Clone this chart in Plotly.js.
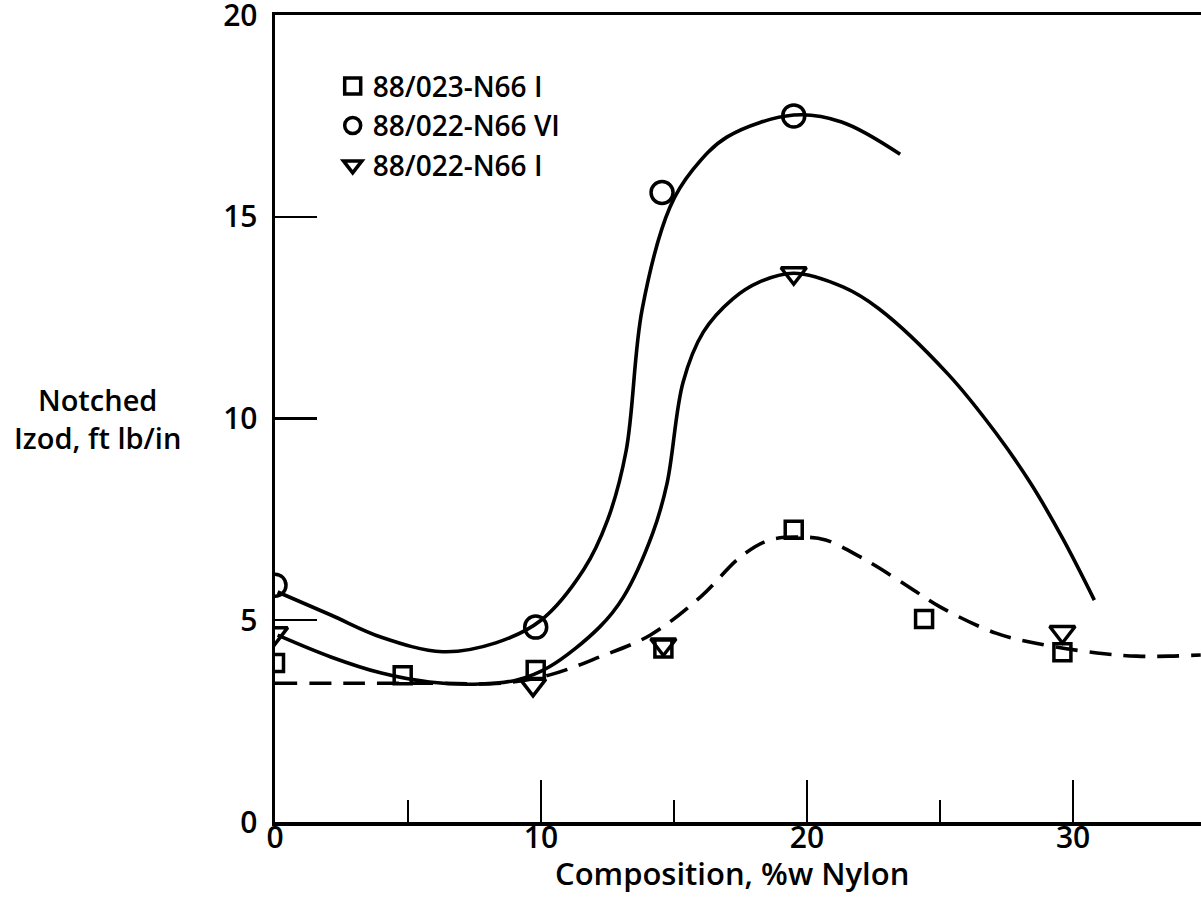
<!DOCTYPE html>
<html>
<head>
<meta charset="utf-8">
<script src="https://cdn.plot.ly/plotly-3.0.1.min.js"></script>
<style>
  html, body { margin: 0; padding: 0; background: #fff; }
  #chart { width: 1201px; height: 906px; }
</style>
</head>
<body>
<div id="chart"></div>
<script>
// Measured points, notched Izod (ft lb/in) against nylon content (%w)
const sqX = [0, 4.8, 9.8, 14.6, 19.5, 24.4, 29.6];
const sqY = [3.94, 3.64, 3.77, 4.3, 7.24, 5.03, 4.21];
const ciX = [0, 9.8, 14.55, 19.5];
const ciY = [5.87, 4.83, 15.6, 17.5];
const trX = [0, 9.7, 14.6, 19.5, 29.6];
const trY = [4.68, 3.4, 4.4, 13.6, 4.71];

// Hand-drawn trend curves through each data set
const fitCiX = [0.1, 2.1, 4.0, 6.3, 8.3, 10.0, 11.6, 12.5, 13.2, 13.8, 14.85, 15.7, 17.0, 19.5, 21.3, 23.5];
const fitCiY = [5.7, 5.13, 4.58, 4.22, 4.44, 5.0, 6.25, 7.48, 9.2, 12.7, 15.24, 16.16, 16.98, 17.52, 17.35, 16.55];
const fitTrX = [0.1, 2.1, 4.0, 5.8, 7.7, 9.1, 10.3, 12.2, 13.1, 14.2, 14.74, 15.34, 16.1, 17.2, 18.2, 19.5, 21.35, 22.7, 25.3, 27.1, 28.4, 29.6, 30.8];
const fitTrY = [4.63, 4.09, 3.69, 3.47, 3.42, 3.52, 3.84, 4.83, 5.58, 7.16, 8.4, 10.9, 12.14, 12.96, 13.38, 13.6, 13.26, 12.72, 11.1, 9.64, 8.4, 7.04, 5.5];
const fitSqX = [0, 3, 6, 8.5, 10.3, 12.2, 14.1, 16, 17.5, 18.6, 19.8, 20.7, 22, 22.7, 24, 25, 27.1, 28.6, 30.9, 32.4, 33.6, 34.8];
const fitSqY = [3.44, 3.44, 3.44, 3.44, 3.64, 4.09, 4.63, 5.58, 6.57, 6.99, 7.06, 6.99, 6.57, 6.3, 5.75, 5.33, 4.68, 4.43, 4.19, 4.11, 4.11, 4.14];

const seriesNames = ['88/023-N66 I', '88/022-N66 VI', '88/022-N66 I'];
const xTickVals = [0, 10, 20, 30];
const yTickVals = [0, 5, 10, 15, 20];

const FONT = 'Open Sans, DejaVu Sans, sans-serif';
const INK = '#000';

function curve(x, y, dash) {
  return {
    x: x, y: y, type: 'scatter', mode: 'lines', showlegend: false,
    hoverinfo: 'skip',
    line: { color: INK, width: 3.6, shape: 'spline', smoothing: 1, dash: dash }
  };
}

function points(x, y, name, symbol, size) {
  return {
    x: x, y: y, type: 'scatter', mode: 'markers', name: name,
    marker: { symbol: symbol, size: size, color: INK,
              line: { color: INK, width: 3.5 } }
  };
}

const traces = [
  curve(fitSqX, fitSqY, '22px,12px'),
  curve(fitCiX, fitCiY, 'solid'),
  curve(fitTrX, fitTrY, 'solid'),
  points(sqX, sqY, seriesNames[0], 'square-open', 17),
  points(ciX, ciY, seriesNames[1], 'circle-open', 22),
  points(trX, trY, seriesNames[2], 'triangle-down-open', 22)
];

const layout = {
  width: 1201, height: 906,
  margin: { l: 275, r: 0, t: 15, b: 84 },
  paper_bgcolor: '#fff', plot_bgcolor: '#fff',
  font: { family: FONT, size: 30, color: INK, weight: 600 },
  showlegend: true,
  legend: {
    x: 0.0623, y: 0.9425, xanchor: 'left', yanchor: 'top',
    bgcolor: 'rgba(0,0,0,0)', borderwidth: 0,
    font: { family: FONT, size: 28, color: INK, weight: 600 },
    itemsizing: 'trace', tracegroupgap: 0
  },
  xaxis: {
    range: [0, 34.81], fixedrange: true,
    showgrid: false, zeroline: false,
    showline: true, linecolor: INK, linewidth: 3.5, mirror: true,
    ticks: 'inside', ticklen: 42, tickwidth: 2.2, tickcolor: INK,
    tickmode: 'array', tickvals: xTickVals, ticktext: xTickVals.map(String),
    ticklabelstandoff: -14,
    minor: { dtick: 5, tick0: 0, ticks: 'inside', ticklen: 22, tickwidth: 2.2, tickcolor: INK, showgrid: false },
    tickfont: { family: FONT, size: 30, color: INK, weight: 600 }
  },
  yaxis: {
    range: [0, 20], fixedrange: true,
    showgrid: false, zeroline: false,
    showline: true, linecolor: INK, linewidth: 3.5,
    ticks: 'inside', ticklen: 42, tickwidth: 2.2, tickcolor: INK,
    tickmode: 'array', tickvals: yTickVals, ticktext: yTickVals.map(String),
    ticklabelstandoff: 8, ticklabeloverflow: 'allow',
    tickfont: { family: FONT, size: 30, color: INK, weight: 600 }
  },
  annotations: [
    {
      // y-axis title, set horizontally beside the tick labels
      xref: 'paper', yref: 'paper', x: -0.192, y: 0.5,
      xanchor: 'center', yanchor: 'middle', showarrow: false, align: 'center',
      text: 'Notched<br>Izod, ft lb/in',
      font: { family: FONT, size: 29, color: INK, weight: 600 }
    },
    {
      // x-axis title
      xref: 'paper', yref: 'paper', x: 0.4935, y: -0.063,
      xanchor: 'center', yanchor: 'middle', showarrow: false,
      text: 'Composition, %w Nylon',
      font: { family: FONT, size: 31, color: INK, weight: 600 }
    }
  ]
};

Plotly.newPlot('chart', traces, layout, { staticPlot: true, displayModeBar: false });
</script>
</body>
</html>
